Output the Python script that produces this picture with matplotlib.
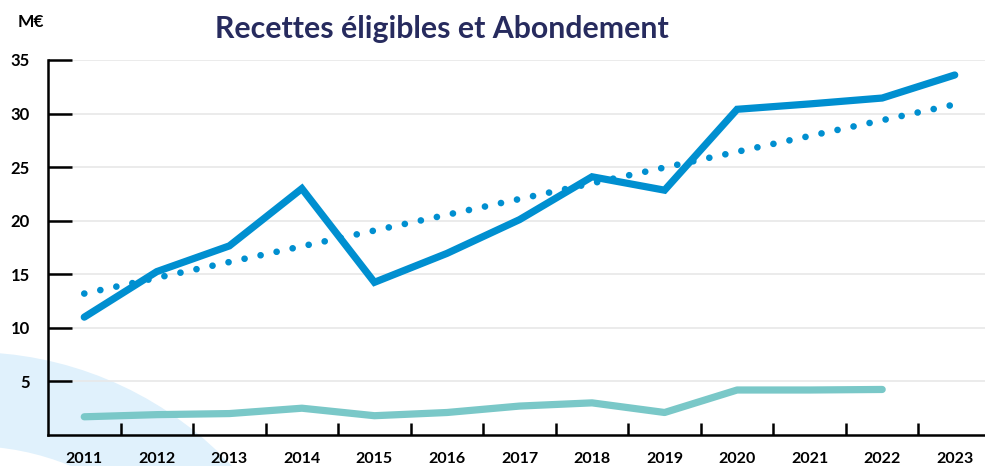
import numpy as np
import matplotlib
matplotlib.use("Agg")
from matplotlib import pyplot as plt
from matplotlib.patches import Wedge

# data (M€)
years = ["2011", "2012", "2013", "2014", "2015", "2016", "2017",
         "2018", "2019", "2020", "2021", "2022", "2023"]
recettes = [11.0, 15.25, 17.65, 23.0, 14.25, 16.95, 20.1,
            24.1, 22.85, 30.4, 30.9, 31.45, 33.6]
abondement = [1.7, 1.9, 2.0, 2.5, 1.8, 2.1, 2.7,
              3.0, 2.1, 4.2, 4.2, 4.25]
trend_years = ["2011", "2023"]
trend_values = [13.2, 30.85]
y_ticks = [5, 10, 15, 20, 25, 30, 35]

BLUE = "#008fd0"
TEAL = "#7ac8c8"
NAVY = "#272b5e"

plt.rcParams['font.family'] = ['Lato', 'DejaVu Sans']

W, H = 985, 466
fig = plt.figure(figsize=(W / 100, H / 100), dpi=100)

# decorative light blue arc in the bottom left corner (pixel space)
arc = Wedge((-30, H - 710), 358, 0, 90, width=94,
            transform=None, facecolor="#e0f1fc", edgecolor="none", zorder=-5)
fig.patches.append(arc)

ax = fig.add_axes([48 / W, 31 / H, 943 / W, 375 / H])
ax.set_facecolor("none")
ax.set_zorder(1)

x = np.arange(len(years))
pos = {y: i for i, y in enumerate(years)}

ax.plot(x, recettes, color=BLUE, lw=5.2, solid_capstyle="round",
        solid_joinstyle="miter", zorder=3)
ax.plot([pos[y] for y in trend_years], trend_values, color=BLUE, lw=4.8,
        linestyle=(0, (0.01, 2.45)), dash_capstyle="round", zorder=3)
ax.plot(x[:len(abondement)], abondement, color=TEAL, lw=5.2,
        solid_capstyle="round", zorder=3)

ax.set_xlim(-0.5, len(years) - 0.5)
ax.set_ylim(0, 35)

ax.set_yticks(y_ticks)
ax.set_yticklabels([str(v) for v in y_ticks], fontsize=12, fontweight="bold")
ax.yaxis.grid(True, color="#e8e8e8", lw=1.2, zorder=0)
ax.tick_params(axis="y", direction="in", length=17, width=1.8, pad=13,
               colors="black")

ax.set_xticks(x)
ax.set_xticklabels(years, fontsize=11.5, fontweight="bold")
ax.set_xticks(np.arange(0.5, len(years) - 1, 1), minor=True)
ax.tick_params(axis="x", which="major", length=0, pad=12)
ax.tick_params(axis="x", which="minor", direction="in", length=9, width=1.8,
               colors="black")

for side in ["top", "right"]:
    ax.spines[side].set_visible(False)
for side in ["left", "bottom"]:
    ax.spines[side].set_linewidth(1.8)
    ax.spines[side].set_color("black")

fig.text(442 / W, 1 - 29 / H, "Recettes éligibles et Abondement",
         ha="center", va="center", fontsize=21.8, fontweight="bold", color=NAVY)
fig.text(18 / W, 1 - 22 / H, "M€", ha="left", va="center", fontsize=12.5,
         fontweight="bold", color="black")

fig.savefig("out.png", dpi=100)
